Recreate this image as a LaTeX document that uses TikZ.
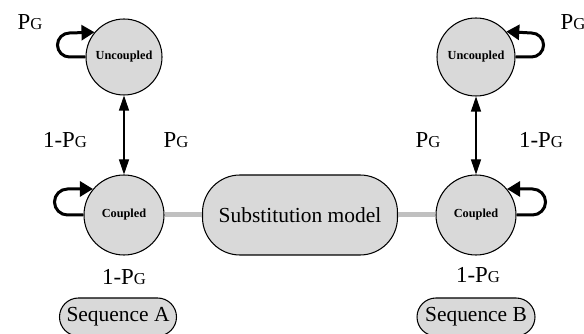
\documentclass[tikz,border=0pt]{standalone}
\usepackage{fontspec}
\setmainfont{Liberation Serif}
\usetikzlibrary{arrows.meta}
\definecolor{stateGray}{HTML}{D9D9D9}
\definecolor{linkGray}{HTML}{C0C0C0}
\newcommand{\pg}{P{\fontsize{9.5}{10}\selectfont G}}
\begin{document}
\begin{tikzpicture}
[x=0.2mm,y=0.2mm,
  stateDecorate/.style={shape=circle,draw,semithick,fill=stateGray,inner sep=0pt,
    font=\bfseries\fontsize{7}{8}\selectfont},
  boxDecorate/.style={shape=rectangle,draw,semithick,fill=stateGray,
    font=\fontsize{12.2}{14}\selectfont},
  probDecorate/.style={font=\fontsize{13}{15}\selectfont,inner sep=0pt},
  linkDecorate/.style={-,line width=1mm,draw=linkGray},
  swapDecorate/.style={{Triangle[width=2mm,length=3mm]}-{Triangle[width=2mm,length=3mm]},semithick},
  loopDecorate/.style={-{Triangle[width=3mm,length=2.6mm]},line width=0.6mm}]
\useasboundingbox (0,0) rectangle (584,334);
%% states
\foreach \nodename/\x/\y/\size/\txt in {
  uA/124/277/15.2mm/Uncoupled, cA/124/119/16mm/Coupled,
  uB/476/277/15.6mm/Uncoupled, cB/476/119/16mm/Coupled}
{
  \node (\nodename) at (\x,\y) [stateDecorate,minimum size=\size] {\txt};
}
%% model and sequences
\node (sub) at (300,119) [boxDecorate,minimum width=39mm,minimum height=16mm,
  rounded corners=7.5mm] {Substitution model};
\node (seqA) at (118,17) [boxDecorate,minimum width=23.4mm,minimum height=7.6mm,
  rounded corners=3.8mm] {Sequence A};
\node (seqB) at (476,17) [boxDecorate,minimum width=23.6mm,minimum height=7.6mm,
  rounded corners=3.8mm] {Sequence B};
%% probabilities
\foreach \nodename/\x/\y/\txt in {
  pUA/30/312/\pg, pUB/573/312/\pg,
  qA/65/194/1-\pg, pA/176/194/\pg, pB/428/194/\pg, qB/541/194/1-\pg,
  qCA/124/57/1-\pg, qCB/478/59/1-\pg}
{
  \node (\nodename) at (\x,\y) [probDecorate] {\txt};
}
%% links and switches
\path
\foreach \startnode/\endnode in {cA/sub, sub/cB}
{
  (\startnode) edge[linkDecorate] (\endnode)
};
\draw[swapDecorate] (uA) -- (cA);
\draw[swapDecorate] (uB) -- (cB);
%% self loops
\draw[loopDecorate] (uA.west) -- ++(-16,0) arc[start angle=270,end angle=90,radius=12] -- (uA.140);
\draw[loopDecorate] (cA.west) -- ++(-16,0) arc[start angle=270,end angle=90,radius=13] -- (cA.140);
\draw[loopDecorate] (uB.east) -- ++(16,0) arc[start angle=-90,end angle=90,radius=12] -- (uB.40);
\draw[loopDecorate] (cB.east) -- ++(16,0) arc[start angle=-90,end angle=90,radius=13] -- (cB.40);
\end{tikzpicture}
\end{document}
